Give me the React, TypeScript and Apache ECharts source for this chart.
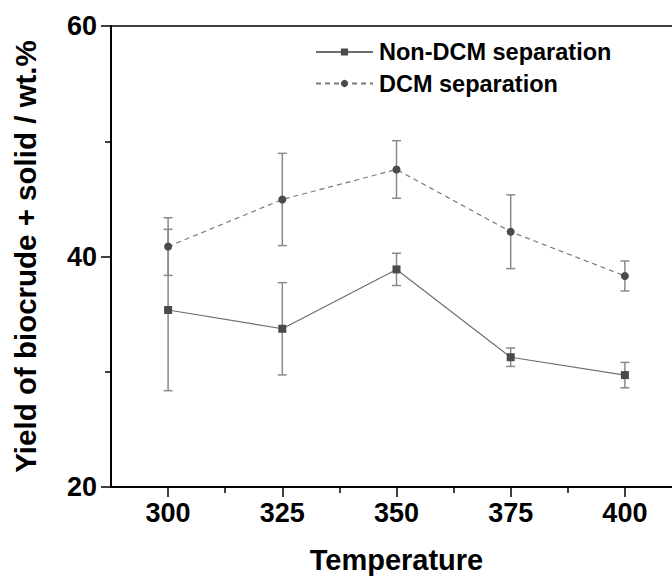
import React, { useEffect, useRef } from "react";
import * as echarts from "echarts";

const temperatures = [300, 325, 350, 375, 400];
const nonDcmYield = [35.36, 33.73, 38.88, 31.26, 29.71];
const nonDcmError = [7.0, 4.0, 1.4, 0.8, 1.1];
const dcmYield = [40.86, 44.95, 47.55, 42.15, 38.31];
const dcmError = [2.5, 4.0, 2.5, 3.2, 1.3];
const majorXTicks = [300, 325, 350, 375, 400];
const minorXTicks = [312.5, 337.5, 362.5, 387.5];
const seriesNames = ["Non-DCM separation", "DCM separation"];

const FONT = "'Liberation Sans', Arial, sans-serif";

function errorData(vals: number[], errs: number[]) {
  return temperatures.map((t, i) => [t, vals[i] - errs[i], vals[i] + errs[i]]);
}

function errorRender(params: any, api: any) {
  const x = api.value(0);
  const lo = api.coord([x, api.value(1)]);
  const hi = api.coord([x, api.value(2)]);
  const w = 4.5;
  const style = { stroke: "#8a8a8a", lineWidth: 1.5 };
  return {
    type: "group",
    children: [
      { type: "line", shape: { x1: lo[0], y1: lo[1], x2: hi[0], y2: hi[1] }, style },
      { type: "line", shape: { x1: lo[0] - w, y1: lo[1], x2: lo[0] + w, y2: lo[1] }, style },
      { type: "line", shape: { x1: hi[0] - w, y1: hi[1], x2: hi[0] + w, y2: hi[1] }, style },
    ],
  };
}

export default function App() {
  const ref = useRef<HTMLDivElement>(null);
  useEffect(() => {
    if (!ref.current) return;
    const chart = echarts.init(ref.current, null, { renderer: "svg" });
    const labelStyle = { fontFamily: FONT, fontWeight: "bold", color: "#000" };
    chart.setOption({
      animation: false,
      backgroundColor: "#fff",
      textStyle: { fontFamily: FONT },
      grid: {
        left: 111,
        width: 571,
        top: 26,
        bottom: 91,
        show: true,
        borderColor: "#000",
        borderWidth: 1.5,
        containLabel: false,
        outerBoundsMode: "none",
      },
      legend: {
        orient: "vertical",
        left: 310,
        top: 35,
        itemWidth: 57,
        itemHeight: 9,
        itemGap: 7.5,
        data: seriesNames,
        textStyle: { ...labelStyle, fontSize: 23.5, padding: [0, 0, 0, 1] },
      },
      xAxis: [
        {
          type: "value",
          min: 287.5,
          max: 412.5,
          position: "bottom",
          name: "Temperature",
          nameLocation: "middle",
          nameGap: 58,
          nameTextStyle: { ...labelStyle, fontSize: 29 },
          axisLine: { show: true, lineStyle: { color: "#000", width: 2 } },
          axisTick: { show: true, customValues: majorXTicks, length: 10, lineStyle: { color: "#000", width: 1.5 } },
          axisLabel: { customValues: majorXTicks, ...labelStyle, fontSize: 27, margin: 12 },
          splitLine: { show: false },
        },
        {
          type: "value",
          min: 287.5,
          max: 412.5,
          position: "bottom",
          axisLine: { show: false },
          axisTick: { show: true, customValues: minorXTicks, length: 6, lineStyle: { color: "#000", width: 1.5 } },
          axisLabel: { show: false },
          splitLine: { show: false },
        },
      ],
      yAxis: {
        type: "value",
        min: 20,
        max: 60,
        interval: 20,
        name: "Yield of biocrude + solid / wt.%",
        nameLocation: "middle",
        nameGap: 71,
        nameTextStyle: { ...labelStyle, fontSize: 29.5 },
        axisLine: { show: true, lineStyle: { color: "#000", width: 2 } },
        axisTick: { show: true, length: 10, lineStyle: { color: "#000", width: 1.5 } },
        minorTick: { show: true, splitNumber: 2, length: 6, lineStyle: { color: "#000", width: 1.5 } },
        axisLabel: { ...labelStyle, fontSize: 27, margin: 14 },
        splitLine: { show: false },
      },
      series: [
        {
          name: seriesNames[0],
          type: "line",
          xAxisIndex: 0,
          data: temperatures.map((t, i) => [t, nonDcmYield[i]]),
          symbol: "rect",
          symbolSize: 8,
          itemStyle: { color: "#4a4a4a" },
          lineStyle: { color: "#6e6e6e", width: 1.2, type: "solid" },
          z: 3,
        },
        {
          name: seriesNames[1],
          type: "line",
          xAxisIndex: 0,
          data: temperatures.map((t, i) => [t, dcmYield[i]]),
          symbol: "circle",
          symbolSize: 8,
          itemStyle: { color: "#4a4a4a" },
          lineStyle: { color: "#7a7a7a", width: 1.2, type: [5, 4] },
          z: 3,
        },
        {
          type: "custom",
          xAxisIndex: 0,
          renderItem: errorRender,
          data: errorData(nonDcmYield, nonDcmError),
          z: 2,
          silent: true,
        },
        {
          type: "custom",
          xAxisIndex: 0,
          renderItem: errorRender,
          data: errorData(dcmYield, dcmError),
          z: 2,
          silent: true,
        },
      ],
    });
    return () => chart.dispose();
  }, []);
  return (
    <div
      ref={ref}
      style={{ position: "fixed", left: 0, top: 0, width: 672, height: 578, background: "#fff" }}
    />
  );
}
